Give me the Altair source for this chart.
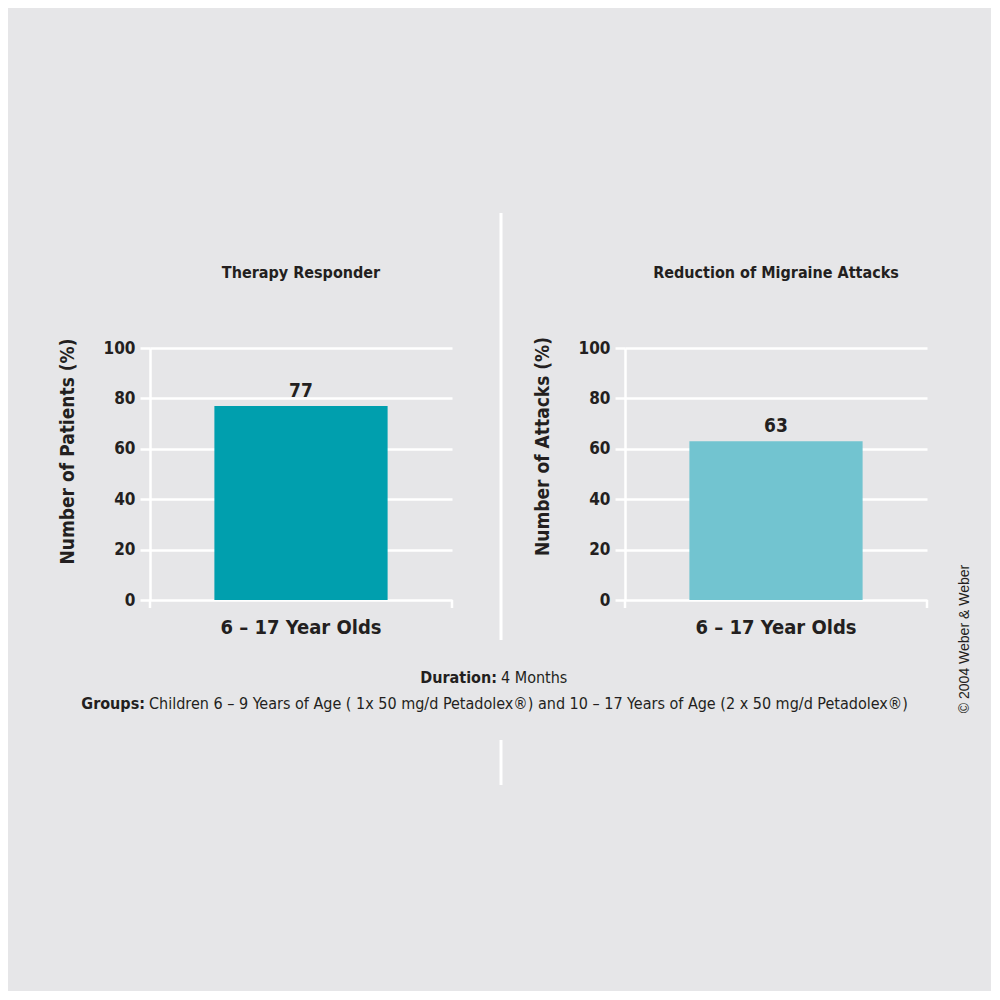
import altair as alt
import pandas as pd

# ---- data ----
panel_titles = ["Therapy Responder", "Reduction of Migraine Attacks"]
y_titles = ["Number of Patients (%)", "Number of Attacks (%)"]
group_labels = ["6 – 17 Year Olds", "6 – 17 Year Olds"]
values = [77, 63]
bar_colors = ["#009fae", "#72c4d0"]
y_ticks = [0, 20, 40, 60, 80, 100]

duration_bold = "Duration:"
duration_text = "4 Months"
groups_bold = "Groups:"
groups_text = "Children 6 – 9 Years of Age ( 1x 50 mg/d Petadolex®) and 10 – 17 Years of Age (2 x 50 mg/d Petadolex®)"
copyright_text = "© 2004 Weber & Weber"

FONT = "Liberation Sans Narrow, Arial Narrow, DejaVu Sans Condensed, sans-serif"
TXT = "#231f20"
BG = "#e6e6e8"
W, H = 302, 252
title_centers = [103, 98]  # y-axis title centre, px from plot top


def txt(s):
    return pd.DataFrame({"t": [s]})


def panel(i):
    df = pd.DataFrame({"group": [group_labels[i]], "value": [values[i]]})
    base = alt.Chart(df)
    x_enc = alt.X(
        "group:N",
        scale=alt.Scale(paddingInner=0.271, paddingOuter=0.271),
        axis=alt.Axis(
            title=None, labelAngle=0, domain=False, ticks=False,
            labelFontSize=20, labelFont=FONT, labelFontWeight="bold",
            labelColor=TXT, labelPadding=17,
        ),
    )
    y_enc = alt.Y(
        "value:Q",
        scale=alt.Scale(domain=[0, 100]),
        axis=alt.Axis(
            values=y_ticks, title=y_titles[i], grid=True,
            gridColor="white", gridWidth=2.5,
            domainColor="white", domainWidth=2.5,
            tickColor="white", tickWidth=2.5, tickSize=10,
            labelFont=FONT, labelFontSize=17, labelFontWeight="bold",
            labelColor=TXT, labelPadding=5,
            titleFont=FONT, titleFontSize=19, titleFontWeight="bold",
            titleColor=TXT, titlePadding=26, titleY=title_centers[i],
        ),
    )
    bars = base.mark_bar(color=bar_colors[i]).encode(x=x_enc, y=y_enc)
    labels = base.mark_text(
        baseline="alphabetic", dy=-9, fontSize=19, font=FONT,
        fontWeight="bold", color=TXT,
    ).encode(x="group:N", y="value:Q", text="value:Q")
    title = alt.Chart(txt(panel_titles[i])).mark_text(
        font=FONT, fontSize=16, fontWeight="bold", color=TXT,
        align="center", baseline="middle",
    ).encode(x=alt.value(W / 2), y=alt.value(-75), text="t:N")
    tick_l = alt.Chart(txt("a")).mark_rule(color="white", strokeWidth=2.5).encode(
        x=alt.value(0), y=alt.value(H), y2=alt.value(H + 8))
    tick_r = alt.Chart(txt("a")).mark_rule(color="white", strokeWidth=2.5).encode(
        x=alt.value(W), y=alt.value(H), y2=alt.value(H + 8))
    return [bars, labels, title, tick_l, tick_r]


left_layers = panel(0)
right_layers = panel(1)

# decorations placed relative to the left panel's plot origin (150, 348)
ox, oy = 150, 348
anchor_tl = alt.Chart(txt("a")).mark_rule(strokeOpacity=0, strokeWidth=1).encode(
    x=alt.value(8 - ox), y=alt.value(8 - oy), y2=alt.value(9 - oy))
anchor_br = alt.Chart(txt("a")).mark_rule(strokeOpacity=0, strokeWidth=1).encode(
    x=alt.value(991 - ox), y=alt.value(990 - oy), y2=alt.value(991 - oy))
div1 = alt.Chart(txt("a")).mark_rule(color="white", strokeWidth=3).encode(
    x=alt.value(501 - ox), y=alt.value(213 - oy), y2=alt.value(640 - oy))
div2 = alt.Chart(txt("a")).mark_rule(color="white", strokeWidth=3).encode(
    x=alt.value(501 - ox), y=alt.value(740 - oy), y2=alt.value(785 - oy))
foot_style = dict(font=FONT, fontSize=16, color=TXT, baseline="middle")
dur_b = alt.Chart(txt(duration_bold)).mark_text(align="right", fontWeight="bold", **foot_style).encode(
    x=alt.value(497 - ox), y=alt.value(678 - oy), text="t:N")
dur_t = alt.Chart(txt(duration_text)).mark_text(align="left", **foot_style).encode(
    x=alt.value(501 - ox), y=alt.value(678 - oy), text="t:N")
grp_b = alt.Chart(txt(groups_bold)).mark_text(align="right", fontWeight="bold", **foot_style).encode(
    x=alt.value(145 - ox), y=alt.value(704 - oy), text="t:N")
grp_t = alt.Chart(txt(groups_text)).mark_text(align="left", **foot_style).encode(
    x=alt.value(149 - ox), y=alt.value(704 - oy), text="t:N")
copy = alt.Chart(txt(copyright_text)).mark_text(
    angle=270, align="center", baseline="middle", font="Liberation Sans, Arial, sans-serif",
    fontSize=14, color=TXT,
).encode(x=alt.value(965 - ox), y=alt.value(639 - oy), text="t:N")

left = alt.layer(*left_layers, anchor_tl, anchor_br, div1, div2, dur_b, dur_t, grp_b, grp_t, copy).properties(width=W, height=H)
right = alt.layer(*right_layers).properties(width=W, height=H)

chart = alt.hconcat(left, right, spacing=173, bounds="flush").properties(
    background=BG, padding=0
).configure_view(stroke=None)

chart.save("out.html", embed_options={"renderer": "svg", "actions": False})
